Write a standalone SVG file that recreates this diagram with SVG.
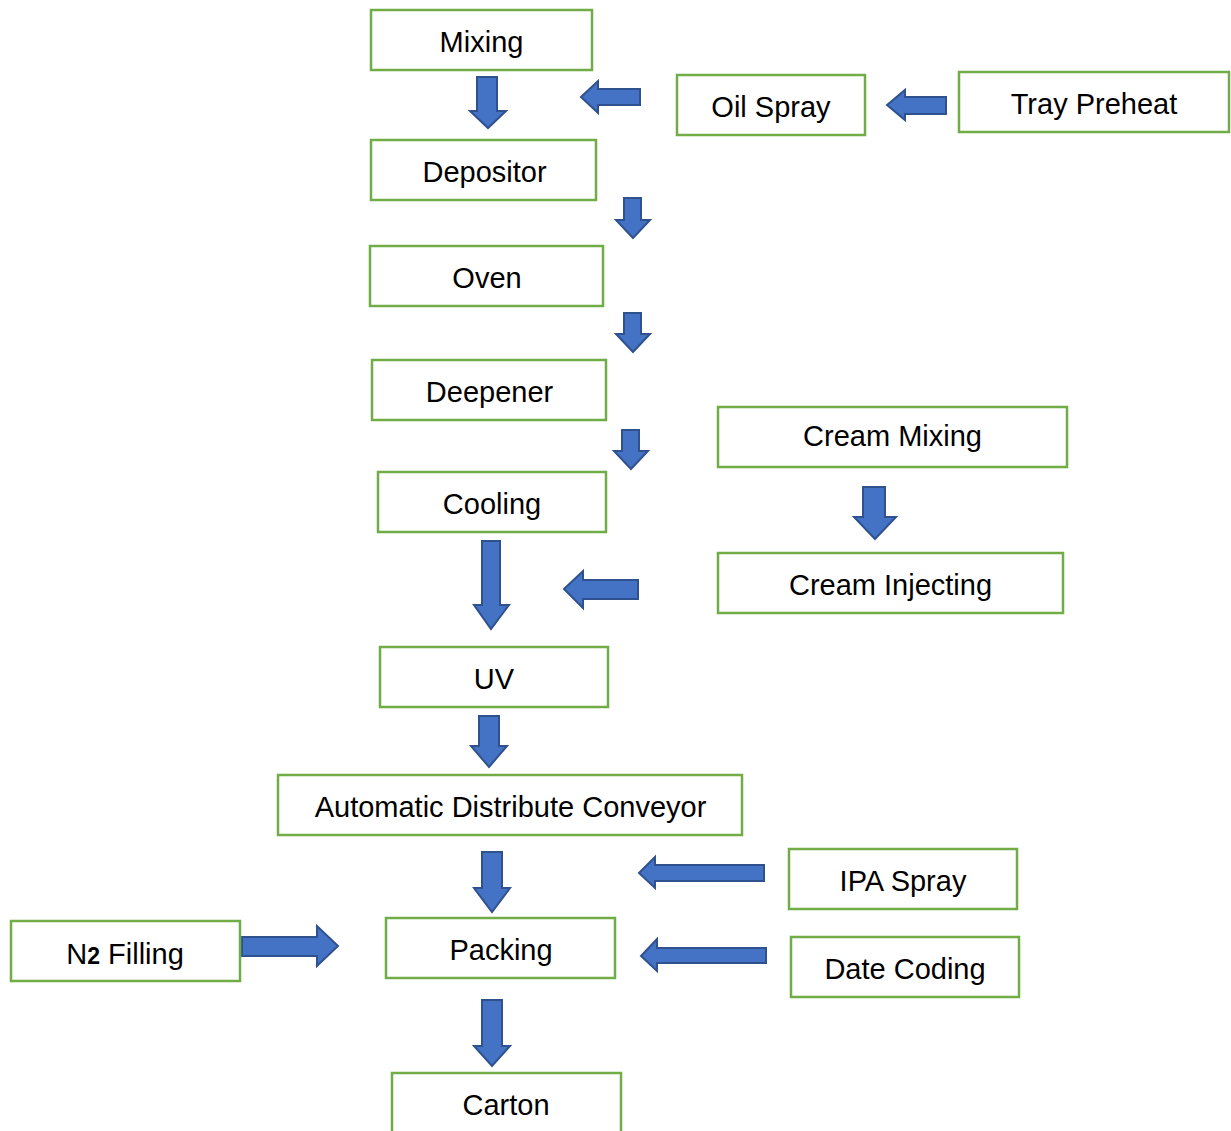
<svg xmlns="http://www.w3.org/2000/svg" width="1231" height="1131" viewBox="0 0 1231 1131">
  <style>
    .box { fill: #ffffff; stroke: #70AD47; stroke-width: 2.5; }
    .lbl { font-family: "Liberation Sans", Arial, sans-serif; font-size: 29px; fill: #000000; text-anchor: middle; }
    .arrow { fill: #4472C4; stroke: #2F528F; stroke-width: 2; stroke-linejoin: miter; }
  </style>
  <rect width="1231" height="1131" fill="#ffffff"/>

  <!-- flow connectors (block arrows) -->
  <g id="connectors">
    <polygon class="arrow" points="477,77 497,77 497,111 506,111 488,128 470,111 477,111"/>
    <polygon class="arrow" points="624,198 641,198 641,220 650,220 633,238 616,220 624,220"/>
    <polygon class="arrow" points="624,313 641,313 641,334 650,334 633,352 616,334 624,334"/>
    <polygon class="arrow" points="622,430 639,430 639,451 648,451 631,469 614,451 622,451"/>
    <polygon class="arrow" points="863,487 885,487 885,517 896,517 875,539 854,517 863,517"/>
    <polygon class="arrow" points="482,541 500,541 500,605 509,605 491,629 474,605 482,605"/>
    <polygon class="arrow" points="479,716 499,716 499,746 507,746 489,767 471,746 479,746"/>
    <polygon class="arrow" points="482,852 502,852 502,888 510,888 492,912 474,888 482,888"/>
    <polygon class="arrow" points="482,1000 502,1000 502,1046 510,1046 492,1066 474,1046 482,1046"/>
    <polygon class="arrow" points="581,97 598,81 598,89 640,89 640,105 598,105 598,113"/>
    <polygon class="arrow" points="887,105 905,90 905,97 946,97 946,114 905,114 905,120"/>
    <polygon class="arrow" points="564,589 583,571 583,580 638,580 638,599 583,599 583,608"/>
    <polygon class="arrow" points="639,873 655,857 655,865 764,865 764,881 655,881 655,888"/>
    <polygon class="arrow" points="641,956 657,939 657,948 766,948 766,963 657,963 657,971"/>
    <polygon class="arrow" points="242,937 317,937 317,926 338,946 317,966 317,956 242,956"/>
  </g>

  <g id="mixing"><rect class="box" x="371" y="10" width="221" height="60"/><text class="lbl" x="481.5" y="52">Mixing</text></g>
  <g id="depositor"><rect class="box" x="371" y="140" width="225" height="60"/><text class="lbl" x="484.5" y="182">Depositor</text></g>
  <g id="oven"><rect class="box" x="370" y="246" width="233" height="60"/><text class="lbl" x="487" y="288">Oven</text></g>
  <g id="deepener"><rect class="box" x="372" y="360" width="234" height="60"/><text class="lbl" x="489.5" y="402">Deepener</text></g>
  <g id="cooling"><rect class="box" x="378" y="472" width="228" height="60"/><text class="lbl" x="492" y="514">Cooling</text></g>
  <g id="uv"><rect class="box" x="380" y="647" width="228" height="60"/><text class="lbl" x="494" y="689">UV</text></g>
  <g id="conveyor"><rect class="box" x="278" y="775" width="464" height="60"/><text class="lbl" x="510.5" y="817">Automatic Distribute Conveyor</text></g>
  <g id="packing"><rect class="box" x="386" y="918" width="229" height="60"/><text class="lbl" x="501" y="960">Packing</text></g>
  <g id="carton"><rect class="box" x="392" y="1073" width="229" height="70"/><text class="lbl" x="506" y="1115">Carton</text></g>
  <g id="oil-spray"><rect class="box" x="677" y="75" width="188" height="60"/><text class="lbl" x="771" y="117">Oil Spray</text></g>
  <g id="tray-preheat"><rect class="box" x="959" y="72" width="270" height="60"/><text class="lbl" x="1094" y="114">Tray Preheat</text></g>
  <g id="cream-mixing"><rect class="box" x="718" y="407" width="349" height="60"/><text class="lbl" x="892.5" y="446">Cream Mixing</text></g>
  <g id="cream-injecting"><rect class="box" x="718" y="553" width="345" height="60"/><text class="lbl" x="890.5" y="595">Cream Injecting</text></g>
  <g id="ipa-spray"><rect class="box" x="789" y="849" width="228" height="60"/><text class="lbl" x="903" y="891">IPA Spray</text></g>
  <g id="date-coding"><rect class="box" x="791" y="937" width="228" height="60"/><text class="lbl" x="905" y="979">Date Coding</text></g>
  <g id="n2-filling"><rect class="box" x="11" y="921" width="229" height="60"/><text class="lbl" x="125" y="964">N<tspan font-size="23" font-weight="bold">2</tspan> Filling</text></g>
</svg>
